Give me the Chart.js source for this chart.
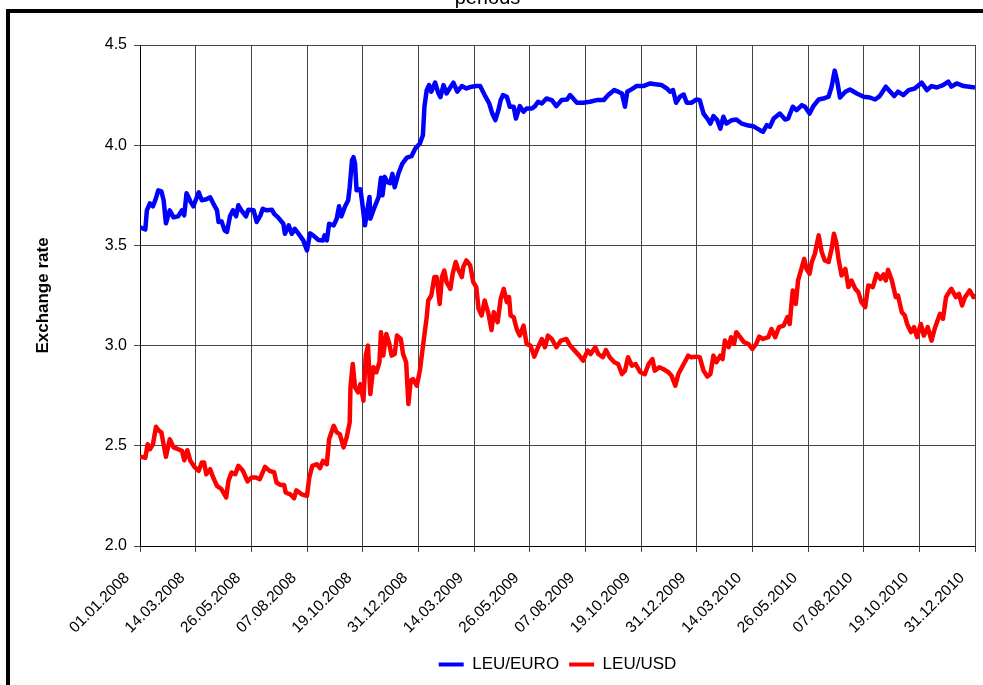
<!DOCTYPE html>
<html>
<head>
<meta charset="utf-8">
<script src="https://cdn.jsdelivr.net/npm/chart.js@4.4.1/dist/chart.umd.min.js"></script>
<style>
  html, body { margin: 0; padding: 0; background: #fff; }
  #wrap { width: 983px; height: 685px; overflow: hidden; }
</style>
</head>
<body>
<div id="wrap"><canvas id="rateChart" width="983" height="685"></canvas></div>
<script>
// Tick labels on the date axis, one every 73 days starting 01.01.2008
const tickLabels = ['01.01.2008', '14.03.2008', '26.05.2008', '07.08.2008', '19.10.2008', '31.12.2008',
    '14.03.2009', '26.05.2009', '07.08.2009', '19.10.2009', '31.12.2009', '14.03.2010',
    '26.05.2010', '07.08.2010', '19.10.2010', '31.12.2010'];
const tickStep = 73;

// LEU/EURO, day offset from 01.01.2008 and rate
const euroDays = [0, 7, 9, 13, 17, 20, 24, 28, 31, 34, 39, 44, 50, 55, 58, 61, 66, 70, 77, 81, 87, 92, 96, 101, 103,
    107, 111, 114, 118, 122, 126, 129, 133, 139, 142, 149, 153, 158, 161, 166, 173, 176, 181, 188, 190, 195, 199,
    203, 208, 214, 219, 223, 227, 234, 240, 242, 245, 248, 254, 258, 261, 264, 269, 273, 275, 278, 280, 282, 284,
    289, 291, 295, 298, 301, 302, 308, 313, 316, 318, 321, 324, 328, 331, 334, 339, 344, 350, 356, 361, 367, 371,
    373, 376, 379, 382, 387, 391, 394, 398, 402, 406, 411, 416, 422, 428, 435, 441, 446, 452, 458, 462, 466, 470,
    473, 476, 481, 485, 490, 493, 498, 503, 507, 514, 518, 522, 527, 533, 540, 546, 553, 560, 564, 573, 581, 590,
    599, 608, 614, 622, 627, 632, 636, 639, 645, 651, 660, 669, 678, 684, 691, 695, 699, 703, 708, 713, 717, 723,
    730, 734, 739, 744, 748, 752, 757, 761, 765, 769, 776, 782, 789, 796, 804, 813, 817, 822, 826, 831, 839, 846,
    850, 856, 861, 868, 872, 878, 883, 890, 896, 903, 907, 911, 914, 918, 925, 931, 940, 949, 957, 964, 970, 978,
    984, 989, 994, 1001, 1008, 1016, 1025, 1032, 1038, 1045, 1053, 1060, 1064, 1071, 1080, 1095];
const euroRates = [3.59, 3.58, 3.675, 3.71, 3.695, 3.725, 3.775, 3.77, 3.725, 3.61, 3.675, 3.64, 3.645, 3.675, 3.65,
    3.76, 3.72, 3.695, 3.765, 3.725, 3.73, 3.74, 3.71, 3.675, 3.617, 3.62, 3.575, 3.567, 3.645, 3.675, 3.645, 3.70,
    3.675, 3.645, 3.678, 3.675, 3.617, 3.65, 3.683, 3.675, 3.678, 3.657, 3.64, 3.608, 3.558, 3.60, 3.558, 3.583,
    3.558, 3.525, 3.475, 3.56, 3.55, 3.527, 3.525, 3.55, 3.525, 3.608, 3.60, 3.633, 3.695, 3.645, 3.695, 3.725,
    3.79, 3.925, 3.94, 3.908, 3.775, 3.78, 3.725, 3.60, 3.675, 3.742, 3.633, 3.695, 3.742, 3.838, 3.75, 3.842,
    3.817, 3.81, 3.857, 3.79, 3.86, 3.908, 3.938, 3.945, 3.983, 4.008, 4.05, 4.192, 4.275, 4.30, 4.267, 4.312,
    4.262, 4.24, 4.30, 4.258, 4.283, 4.312, 4.267, 4.295, 4.283, 4.292, 4.295, 4.295, 4.25, 4.208, 4.158, 4.125,
    4.175, 4.225, 4.25, 4.242, 4.192, 4.192, 4.133, 4.195, 4.167, 4.183, 4.183, 4.195, 4.217, 4.208, 4.233, 4.225,
    4.195, 4.225, 4.228, 4.25, 4.212, 4.212, 4.217, 4.225, 4.225, 4.25, 4.275, 4.267, 4.258, 4.192, 4.267, 4.28,
    4.295, 4.295, 4.308, 4.303, 4.30, 4.283, 4.267, 4.275, 4.212, 4.242, 4.253, 4.212, 4.212, 4.228, 4.225, 4.158,
    4.133, 4.108, 4.145, 4.125, 4.083, 4.142, 4.108, 4.125, 4.128, 4.108, 4.10, 4.095, 4.075, 4.067, 4.10, 4.092,
    4.133, 4.158, 4.128, 4.133, 4.192, 4.175, 4.20, 4.192, 4.158, 4.195, 4.228, 4.233, 4.242, 4.292, 4.372, 4.325,
    4.238, 4.267, 4.278, 4.258, 4.242, 4.238, 4.228, 4.245, 4.292, 4.267, 4.245, 4.267, 4.25, 4.275, 4.283, 4.312,
    4.275, 4.295, 4.288, 4.30, 4.317, 4.292, 4.308, 4.295, 4.288];

// LEU/USD, day offset from 01.01.2008 and rate
const usdDays = [0, 7, 10, 13, 17, 21, 25, 28, 34, 39, 44, 50, 55, 58, 62, 66, 72, 77, 81, 84, 87, 92, 96, 101, 107,
    113, 116, 120, 125, 129, 135, 141, 146, 152, 157, 164, 170, 176, 179, 184, 189, 191, 197, 202, 205, 212, 219,
    222, 226, 232, 236, 240, 245, 248, 254, 258, 262, 267, 271, 275, 276, 279, 282, 286, 289, 293, 296, 299, 302,
    306, 310, 314, 316, 319, 323, 327, 330, 334, 337, 342, 345, 349, 352, 355, 358, 363, 367, 372, 376, 378, 382,
    386, 389, 393, 396, 399, 402, 407, 410, 414, 417, 422, 424, 428, 433, 437, 441, 444, 448, 452, 457, 461, 464,
    469, 473, 477, 481, 484, 486, 490, 494, 498, 503, 507, 512, 517, 522, 527, 531, 535, 540, 546, 552, 559, 564,
    570, 576, 581, 587, 591, 597, 601, 607, 611, 616, 622, 627, 632, 636, 640, 645, 650, 656, 662, 667, 672, 675,
    681, 686, 693, 697, 702, 706, 713, 719, 723, 730, 734, 739, 744, 748, 752, 756, 761, 764, 767, 772, 775, 779,
    782, 787, 792, 798, 803, 808, 812, 817, 824, 828, 833, 838, 844, 849, 852, 856, 860, 863, 868, 871, 874, 878,
    881, 885, 890, 894, 898, 903, 907, 910, 913, 916, 920, 925, 929, 933, 938, 942, 946, 951, 955, 961, 966, 971,
    975, 978, 981, 986, 991, 994, 999, 1003, 1006, 1011, 1015, 1019, 1024, 1028, 1033, 1038, 1042, 1049, 1053,
    1057, 1061, 1064, 1070, 1074, 1078, 1082, 1088, 1093, 1095];
const usdRates = [2.445, 2.44, 2.508, 2.483, 2.508, 2.595, 2.575, 2.567, 2.445, 2.533, 2.492, 2.483, 2.475, 2.428,
    2.478, 2.425, 2.392, 2.375, 2.417, 2.417, 2.358, 2.383, 2.342, 2.30, 2.283, 2.242, 2.325, 2.367, 2.358, 2.40,
    2.375, 2.322, 2.342, 2.342, 2.333, 2.395, 2.375, 2.367, 2.317, 2.305, 2.305, 2.267, 2.258, 2.238, 2.278, 2.258,
    2.25, 2.342, 2.40, 2.408, 2.388, 2.425, 2.408, 2.533, 2.60, 2.567, 2.558, 2.492, 2.542, 2.617, 2.792, 2.908,
    2.792, 2.767, 2.808, 2.725, 2.95, 3.0, 2.758, 2.892, 2.867, 2.917, 3.067, 2.95, 3.058, 3.008, 2.95, 2.958,
    3.05, 3.033, 2.958, 2.917, 2.708, 2.825, 2.833, 2.80, 2.875, 3.025, 3.142, 3.225, 3.25, 3.342, 3.342, 3.208,
    3.342, 3.375, 3.317, 3.283, 3.358, 3.417, 3.383, 3.342, 3.392, 3.425, 3.40, 3.317, 3.292, 3.183, 3.15, 3.225,
    3.158, 3.078, 3.167, 3.117, 3.233, 3.283, 3.217, 3.242, 3.15, 3.142, 3.083, 3.05, 3.10, 3.008, 3.0, 2.945,
    2.992, 3.033, 2.992, 3.05, 3.033, 2.992, 3.025, 3.033, 3.0, 2.975, 2.95, 2.925, 2.975, 2.958, 2.992, 2.958,
    2.942, 2.978, 2.942, 2.917, 2.908, 2.858, 2.875, 2.942, 2.90, 2.908, 2.867, 2.858, 2.908, 2.933, 2.875, 2.892,
    2.883, 2.867, 2.85, 2.80, 2.858, 2.908, 2.95, 2.942, 2.945, 2.942, 2.875, 2.845, 2.858, 2.95, 2.917, 2.95,
    2.933, 3.025, 2.992, 3.042, 3.008, 3.067, 3.042, 3.017, 3.008, 2.983, 3.008, 3.045, 3.033, 3.042, 3.083, 3.042,
    3.092, 3.10, 3.142, 3.108, 3.275, 3.208, 3.325, 3.392, 3.433, 3.383, 3.358, 3.417, 3.458, 3.55, 3.467, 3.425,
    3.417, 3.483, 3.558, 3.517, 3.433, 3.35, 3.383, 3.292, 3.325, 3.283, 3.267, 3.217, 3.192, 3.30, 3.292, 3.358,
    3.333, 3.355, 3.325, 3.378, 3.325, 3.242, 3.25, 3.167, 3.15, 3.108, 3.067, 3.092, 3.042, 3.108, 3.05, 3.092,
    3.025, 3.083, 3.158, 3.133, 3.242, 3.267, 3.283, 3.242, 3.258, 3.20, 3.242, 3.275, 3.242, 3.258];

const yTicks = [2.0, 2.5, 3.0, 3.5, 4.0, 4.5];

Chart.defaults.font.family = "'Liberation Sans', Arial, sans-serif";
Chart.defaults.color = '#000';

// Thick black frame around the whole chart (cut off at right and bottom)
const framePlugin = {
    id: 'frame',
    afterDraw(chart) {
        const ctx = chart.ctx;
        ctx.save();
        ctx.strokeStyle = '#000';
        ctx.lineWidth = 4;
        ctx.strokeRect(8, 11, chart.width + 40, chart.height + 40);
        ctx.restore();
    }
};

const toPoints = (days, rates) => days.map((d, i) => ({ x: d, y: rates[i] }));

const ctx = document.getElementById('rateChart').getContext('2d');
const rateChart = new Chart(ctx, {
    type: 'line',
    data: {
        datasets: [
            {
                label: 'LEU/EURO',
                data: toPoints(euroDays, euroRates),
                borderColor: '#0000FF',
                backgroundColor: '#0000FF',
                borderWidth: 4.5,
                pointRadius: 0,
                borderJoinStyle: 'round',
            },
            {
                label: 'LEU/USD',
                data: toPoints(usdDays, usdRates),
                borderColor: '#FF0000',
                backgroundColor: '#FF0000',
                borderWidth: 4.5,
                pointRadius: 0,
                borderJoinStyle: 'round',
            },
        ],
    },
    options: {
        responsive: false,
        animation: false,
        layout: { padding: { left: 0, right: 8, top: 0, bottom: 2 } },
        scales: {
            x: {
                type: 'linear',
                min: 0,
                max: (tickLabels.length - 1) * tickStep,
                afterFit: (axis) => {
                    axis.height = 100;
                    // rotated labels only hang to the left, no room needed on the right
                    axis.paddingRight = 0;
                },
                grid: { color: '#444', tickLength: 6 },
                border: { color: '#000' },
                ticks: {
                    stepSize: tickStep,
                    autoSkip: false,
                    maxRotation: 45,
                    minRotation: 45,
                    labelOffset: -13,
                    padding: 17,
                    font: { size: 15.5 },
                    callback: (v) => tickLabels[Math.round(v / tickStep)],
                },
            },
            y: {
                min: yTicks[0],
                max: yTicks[yTicks.length - 1],
                afterFit: (axis) => { axis.width = 140; },
                grid: { color: '#444', tickLength: 6 },
                border: { color: '#000' },
                ticks: {
                    stepSize: 0.5,
                    padding: 7,
                    font: { size: 16 },
                    callback: (v) => v.toFixed(1),
                },
                title: {
                    display: true,
                    text: 'Exchange rate',
                    font: { size: 17, weight: 'bold' },
                    padding: { top: 33, bottom: 0 },
                },
            },
        },
        plugins: {
            title: {
                display: true,
                text: 'periods',
                font: { size: 20, weight: 'normal' },
                padding: { top: -14, bottom: 35 },
            },
            legend: {
                position: 'bottom',
                fullSize: false,
                labels: {
                    boxWidth: 25,
                    boxHeight: 4,
                    font: { size: 17 },
                    generateLabels: (chart) => Chart.defaults.plugins.legend.labels.generateLabels(chart)
                        .map((item) => Object.assign(item, { lineWidth: 0 })),
                },
            },
            tooltip: { enabled: false },
        },
    },
    plugins: [framePlugin],
});
</script>
</body>
</html>
